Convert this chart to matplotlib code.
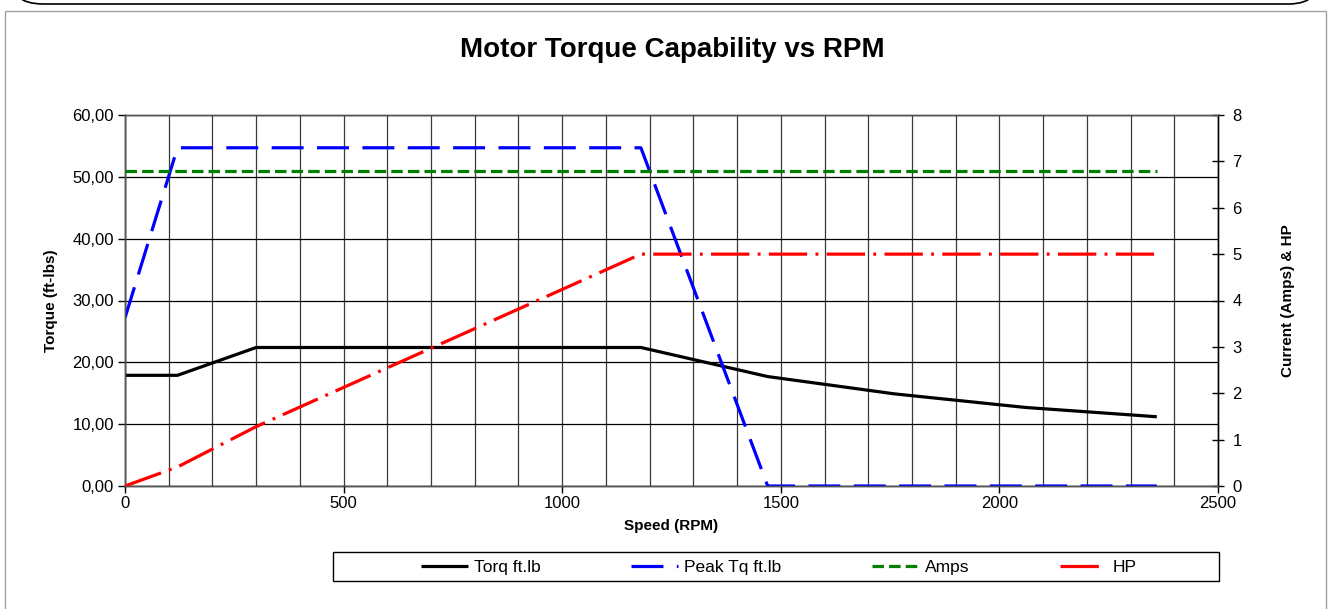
import matplotlib
matplotlib.use("Agg")
import matplotlib.pyplot as plt
from matplotlib.patches import Rectangle, FancyBboxPatch
from matplotlib.ticker import MultipleLocator, FuncFormatter

plt.rcParams['font.family'] = ['Liberation Sans', 'DejaVu Sans']

# ---- data ----
torq_rpm = [0, 120, 300, 1180, 1470, 1760, 2060, 2360]
torq_val = [17.9, 17.9, 22.4, 22.4, 17.7, 14.9, 12.7, 11.2]

peak_rpm = [0, 120, 1180, 1470, 2360]
peak_val = [27.2, 54.7, 54.7, 0.0, 0.0]

amps_rpm = [0, 2360]
amps_val = [6.8, 6.8]

hp_rpm = [0, 120, 300, 1180, 1470, 1760, 2060, 2360]
hp_val = [0.0, 0.41, 1.28, 5.0, 5.0, 5.0, 5.0, 5.0]

x_ticks = [0, 500, 1000, 1500, 2000, 2500]
left_ticks = [0, 10, 20, 30, 40, 50, 60]
right_ticks = [0, 1, 2, 3, 4, 5, 6, 7, 8]

W, H = 1329, 609
fig = plt.figure(figsize=(W / 100, H / 100), dpi=100)

# outer decorations
fig.patches.append(Rectangle((5 / W, -0.05), 1321 / W, 1.05 - 10.5 / H,
                             transform=fig.transFigure, fill=False,
                             edgecolor='#a0a0a0', linewidth=1.0))
fig.patches.append(FancyBboxPatch((10 / W, 1 - 4 / H), 1312 / W, 0.1,
                                  boxstyle="round,pad=0,rounding_size=0.025",
                                  transform=fig.transFigure, fill=False,
                                  edgecolor='black', linewidth=1.2,
                                  mutation_aspect=W / H))

ax = fig.add_axes([125 / W, 1 - 486 / H, 1093 / W, 371 / H])
ax2 = ax.twinx()

lw = 2.3
ax.plot(torq_rpm, torq_val, color='black', lw=lw, solid_capstyle='butt', zorder=5,
        label='Torq ft.lb')
ax.plot(peak_rpm, peak_val, color='#0000ff', lw=lw, dashes=(10, 4.2),
        dash_capstyle='butt', zorder=5, label='Peak Tq ft.lb')
ax2.plot(amps_rpm, amps_val, color='#008000', lw=lw, dashes=(3.6, 1.6),
         dash_capstyle='butt', zorder=5, label='Amps')
ax2.plot(hp_rpm, hp_val, color='#ff0000', lw=lw, dashes=(12, 2.6, 0.9, 2.6),
         dash_capstyle='butt', zorder=5, label='HP')

ax.set_xlim(0, 2500)
ax.set_ylim(0, 60)
ax2.set_ylim(0, 8)
ax.set_xticks(x_ticks)
ax.set_yticks(left_ticks)
ax2.set_yticks(right_ticks)
ax.xaxis.set_minor_locator(MultipleLocator(100))
ax.yaxis.set_major_formatter(FuncFormatter(lambda v, p: f"{v:.2f}".replace('.', ',')))

ax.grid(True, which='major', axis='y', color='black', lw=0.9)
ax.grid(True, which='both', axis='x', color='#3a3a3a', lw=0.9)
ax.set_axisbelow(True)

for a in (ax, ax2):
    for s in a.spines.values():
        s.set_color('#555555')
        s.set_linewidth(1.0)
ax.spines['left'].set_color('black')
ax2.spines['right'].set_color('black')
ax.spines['bottom'].set_color('black')

ax.tick_params(axis='x', which='major', direction='out', length=5, width=1, labelsize=12, pad=2)
ax.tick_params(axis='x', which='minor', length=0)
ax.tick_params(axis='y', direction='out', length=5, width=1, labelsize=12, pad=3)
ax2.tick_params(axis='y', direction='inout', length=9, width=1, labelsize=12, pad=6)

ax.set_xlabel('Speed (RPM)', fontsize=11, fontweight='bold', labelpad=6)
ax.set_ylabel('Torque (ft-lbs)', fontsize=11, fontweight='bold', labelpad=10)
ax2.set_ylabel('Current (Amps) & HP', fontsize=11, fontweight='bold', labelpad=28)

fig.text(672 / W, 1 - 50 / H, 'Motor Torque Capability vs RPM', ha='center', va='center',
         fontsize=20, fontweight='bold')

# legend box
fig.patches.append(Rectangle((333 / W, 1 - 581 / H), 886 / W, 29 / H,
                             transform=fig.transFigure, fill=False,
                             edgecolor='black', linewidth=1.0, zorder=1))
h1, l1 = ax.get_legend_handles_labels()
h2, l2 = ax2.get_legend_handles_labels()
fig.legend(h1 + h2, l1 + l2, loc='center', bbox_to_anchor=(779 / W, 1 - 567 / H),
           ncol=4, frameon=False, fontsize=12.5, handlelength=2.7, handletextpad=0.35,
           columnspacing=5.2, borderaxespad=0)

fig.savefig('out.png', dpi=100)
